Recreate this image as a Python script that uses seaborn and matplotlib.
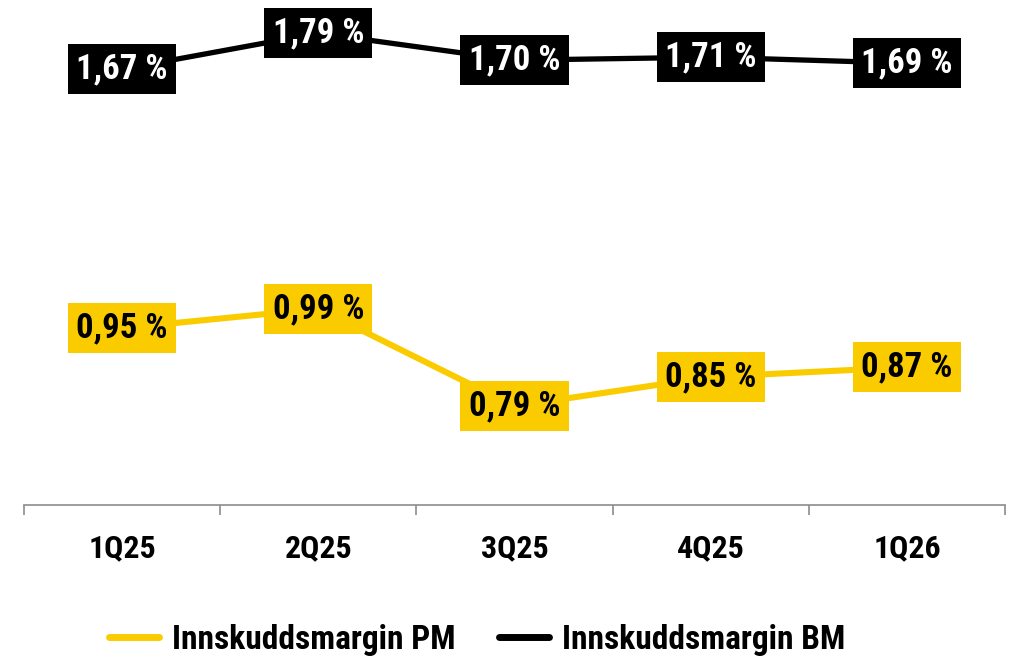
import matplotlib
matplotlib.use("Agg")
import matplotlib.pyplot as plt
import seaborn as sns
import pandas as pd
import numpy as np

quarters = ["1Q25", "2Q25", "3Q25", "4Q25", "1Q26"]
pm_values = [0.95, 0.99, 0.79, 0.85, 0.87]
bm_values = [1.67, 1.79, 1.70, 1.71, 1.69]
series_names = ["Innskuddsmargin PM", "Innskuddsmargin BM"]

YELLOW = "#FACC00"
BLACK = "#000000"

sns.set_style("white")
# narrow bold font like the original (Arial Narrow)
plt.rcParams["font.family"] = ["Roboto Condensed", "Archivo Narrow", "Liberation Sans", "DejaVu Sans"]
plt.rcParams["font.weight"] = "bold"

df = pd.DataFrame({"quarter": quarters, "x": np.arange(len(quarters)),
                   "pm": pm_values, "bm": bm_values})

fig = plt.figure(figsize=(10.15, 6.68), dpi=100)
ax = fig.add_axes([24 / 1015, (668 - 505) / 668, (1005 - 24) / 1015, 500 / 668])
ax2 = ax.twinx()

sns.lineplot(data=df, x="x", y="pm", ax=ax, color=YELLOW, linewidth=4.4, label=series_names[0], legend=False)
sns.lineplot(data=df, x="x", y="bm", ax=ax2, color=BLACK, linewidth=3.8, label=series_names[1], legend=False)

ax.set_ylim(0.587, 1.614)
ax2.set_ylim(0.217, 1.884)
ax.set_xlim(-0.5, len(quarters) - 0.5)

# data labels
for xi, v in zip(df["x"], pm_values):
    ax.text(xi, v, f"{v:.2f} %".replace(".", ","), ha="center", va="center",
            fontsize=25, fontweight="bold", color="black",
            bbox=dict(boxstyle="square,pad=0.24", fc=YELLOW, ec="none"))
for xi, v in zip(df["x"], bm_values):
    ax2.text(xi, v, f"{v:.2f} %".replace(".", ","), ha="center", va="center",
             fontsize=25, fontweight="bold", color="white",
             bbox=dict(boxstyle="square,pad=0.24", fc=BLACK, ec="none"))

# axes styling
for a in (ax, ax2):
    for s in ["top", "right", "left"]:
        a.spines[s].set_visible(False)
    a.set_yticks([])
    a.set_ylabel("")
ax2.spines["bottom"].set_visible(False)
ax.spines["bottom"].set_color("#8c8c8c")
ax.spines["bottom"].set_linewidth(1.2)

ax.set_xticks(np.arange(-0.5, len(quarters), 1.0))
ax.set_xticklabels([])
ax.tick_params(axis="x", which="major", direction="out", length=7, width=1.2, color="#8c8c8c", bottom=True)
ax.set_xticks(np.arange(len(quarters)), minor=True)
ax.set_xticklabels(quarters, minor=True, fontsize=23, fontweight="bold", color="black")
ax.tick_params(axis="x", which="minor", length=0, pad=20)
ax.set_xlabel("")

handles = [ax.get_lines()[0], ax2.get_lines()[0]]
leg = fig.legend(handles, series_names, loc="center", bbox_to_anchor=(0.47, 0.042), ncol=2,
                 frameon=False, handlelength=1.5, columnspacing=1.3, handletextpad=0.4,
                 labelcolor="black", prop={"weight": "bold", "size": 24})
for line in leg.get_lines():
    line.set_linewidth(5)

fig.savefig("out.png", dpi=100)
